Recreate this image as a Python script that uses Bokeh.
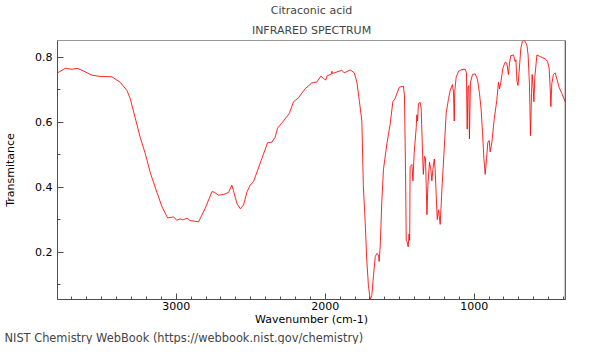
from bokeh.plotting import figure
from bokeh.models import Range1d, Title, FixedTicker, Span
from bokeh.embed import file_html
from bokeh.resources import INLINE

wavenumber = [3797, 3745, 3698, 3666, 3633, 3566, 3511, 3432, 3376, 3331, 3309, 3275, 3242, 3208,
              3174, 3130, 3096, 3058, 3018, 2996, 2973, 2955, 2928, 2906, 2850, 2805, 2783, 2760,
              2745, 2716, 2683, 2649, 2627, 2616, 2593, 2570, 2548, 2526, 2503, 2481, 2436, 2387,
              2358, 2336, 2320, 2280, 2240, 2213, 2180, 2135, 2090, 2056, 2029, 2012, 1996, 1989,
              1958, 1955, 1952, 1889, 1873, 1832, 1805, 1787, 1770, 1754, 1744, 1732, 1721, 1710,
              1698, 1687, 1676, 1664, 1653, 1642, 1638, 1631, 1620, 1609, 1586, 1564, 1546, 1531,
              1515, 1502, 1475, 1468, 1461, 1456, 1450, 1443, 1437, 1433, 1430, 1418, 1411, 1403,
              1389, 1385, 1380, 1374, 1362, 1356, 1344, 1341, 1334, 1327, 1322, 1317, 1311, 1300,
              1291, 1284, 1277, 1268, 1262, 1255, 1248, 1239, 1228, 1217, 1201, 1188, 1172, 1161,
              1146, 1139, 1134, 1130, 1121, 1105, 1083, 1060, 1052, 1047, 1042, 1036, 1032, 1025,
              1011, 993, 978, 964, 953, 944, 935, 926, 917, 908, 899, 893, 881, 866, 848, 837, 830,
              821, 807, 792, 781, 770, 763, 754, 736, 725, 720, 713, 706, 698, 687, 676, 662, 646,
              638, 629, 622, 615, 611, 604, 599, 593, 579, 557, 523, 508, 497, 490, 485, 479, 468,
              456, 445, 430, 411, 389]
transmittance = [0.752, 0.766, 0.763, 0.766, 0.760, 0.745, 0.741, 0.740, 0.723, 0.698, 0.673, 0.613,
                 0.554, 0.504, 0.445, 0.385, 0.341, 0.306, 0.309, 0.299, 0.303, 0.300, 0.305, 0.298,
                 0.294, 0.336, 0.361, 0.387, 0.385, 0.376, 0.378, 0.384, 0.407, 0.390, 0.351, 0.334,
                 0.346, 0.385, 0.407, 0.418, 0.475, 0.537, 0.539, 0.554, 0.582, 0.604, 0.628, 0.663,
                 0.675, 0.703, 0.721, 0.724, 0.742, 0.735, 0.730, 0.742, 0.749, 0.757, 0.750, 0.760,
                 0.752, 0.761, 0.752, 0.723, 0.663, 0.604, 0.405, 0.296, 0.177, 0.098, 0.055, 0.068,
                 0.128, 0.187, 0.197, 0.192, 0.172, 0.217, 0.356, 0.455, 0.534, 0.594, 0.663, 0.673,
                 0.693, 0.708, 0.711, 0.683, 0.455, 0.237, 0.232, 0.217, 0.257, 0.237, 0.464, 0.470,
                 0.420, 0.504, 0.584, 0.623, 0.604, 0.658, 0.661, 0.643, 0.470, 0.440, 0.495, 0.490,
                 0.405, 0.316, 0.405, 0.477, 0.455, 0.420, 0.455, 0.487, 0.455, 0.376, 0.301, 0.331,
                 0.286, 0.390, 0.520, 0.628, 0.673, 0.698, 0.716, 0.693, 0.604, 0.698, 0.738, 0.757,
                 0.762, 0.763, 0.752, 0.579, 0.708, 0.713, 0.549, 0.723, 0.747, 0.749, 0.732, 0.688,
                 0.638, 0.569, 0.489, 0.440, 0.489, 0.539, 0.544, 0.509, 0.539, 0.608, 0.668, 0.723,
                 0.703, 0.723, 0.767, 0.785, 0.782, 0.747, 0.782, 0.805, 0.807, 0.787, 0.792, 0.727,
                 0.713, 0.757, 0.827, 0.849, 0.852, 0.837, 0.807, 0.718, 0.559, 0.688, 0.747, 0.708,
                 0.663, 0.738, 0.807, 0.802, 0.795, 0.787, 0.767, 0.708, 0.648, 0.718, 0.747, 0.752,
                 0.733, 0.708, 0.688, 0.663]

x_major = [1000, 2000, 3000]
x_minor = list(range(400, 3800, 100))
y_major = [0.2, 0.4, 0.6, 0.8]
y_minor = [0.1, 0.3, 0.5, 0.7]

X_START, X_END = 3797, 387
FONT = "DejaVu Sans"
AXIS_COL = "#4d4d4d"

p = figure(width=584, height=344, output_backend="svg", toolbar_location=None,
           x_range=Range1d(X_START, X_END), y_range=Range1d(0.0552, 0.8515),
           min_border_left=57, min_border_right=19, min_border_top=40, min_border_bottom=36,
           title=None)
p.outline_line_color = "#999999"
p.grid.visible = False
p.background_fill_color = "white"
p.border_fill_color = "white"

p.line(wavenumber, transmittance, line_color="#ff0000", line_width=1, line_alpha=0.85)

for ax in (p.xaxis[0], p.yaxis[0]):
    ax.axis_line_color = AXIS_COL
    ax.major_tick_line_color = AXIS_COL
    ax.minor_tick_line_color = AXIS_COL
    ax.major_tick_in = 6
    ax.major_tick_out = 0
    ax.minor_tick_in = 3
    ax.minor_tick_out = 0
    ax.major_label_text_font = FONT
    ax.major_label_text_font_size = "11px"
    ax.major_label_text_color = "black"
    ax.axis_label_text_font = FONT
    ax.axis_label_text_font_size = "11px"
    ax.axis_label_text_font_style = "normal"
    ax.axis_label_text_color = "black"

p.xaxis[0].ticker = FixedTicker(ticks=x_major, minor_ticks=x_minor)
p.yaxis[0].ticker = FixedTicker(ticks=y_major, minor_ticks=y_minor)
p.xaxis[0].axis_label = "Wavenumber (cm-1)"
p.yaxis[0].axis_label = "Transmitance"
p.xaxis[0].major_label_standoff = 2
p.xaxis[0].axis_label_standoff = 0
p.yaxis[0].major_label_standoff = 5
p.yaxis[0].axis_label_standoff = 15

# dark right border of the frame
p.add_layout(Span(location=X_END, dimension="height", line_color="#333333", line_width=1.5))

p.add_layout(Title(text="INFRARED SPECTRUM", align="center", text_font=FONT, text_font_size="11px",
                   text_font_style="normal", standoff=7), "above")
p.add_layout(Title(text="Citraconic acid", align="center", text_font=FONT, text_font_size="11px",
                   text_font_style="normal", standoff=3), "above")
p.add_layout(Title(text="NIST Chemistry WebBook (https://webbook.nist.gov/chemistry)", align="left",
                   text_font=FONT, text_font_size="11.4px", text_font_style="normal", standoff=0,
                   offset=-53), "below")

open("out.html", "w").write(file_html(p, INLINE))
